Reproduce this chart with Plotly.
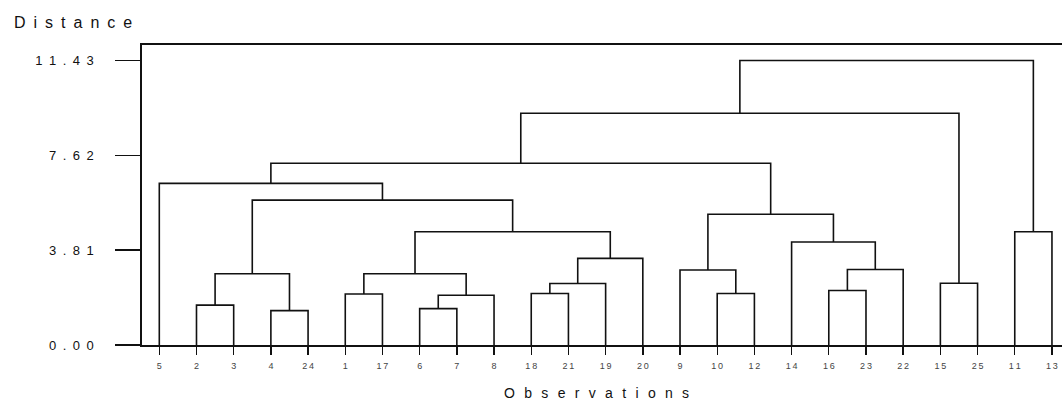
import plotly.graph_objects as go

# ---- data ----
leaves = ["5", "2", "3", "4", "24", "1", "17", "6", "7", "8", "18", "21", "19",
          "20", "9", "10", "12", "14", "16", "23", "22", "15", "25", "11", "13"]

merge_ids = ["c1", "c2", "c3", "c4", "c5", "c6", "c7", "c8", "c9", "c10", "c11", "c12",
             "c13", "c14", "c15", "c16", "c17", "c18", "c19", "c20", "c21", "c22", "c23", "c24"]
merge_left = ["2", "4", "c1", "1", "6", "c5", "c4", "18", "c8", "c9", "c7", "c3",
              "5", "10", "9", "16", "c16", "14", "c15", "c13", "15", "c20", "11", "c22"]
merge_right = ["3", "24", "c2", "17", "7", "8", "c6", "21", "19", "20", "c10", "c11",
               "c12", "12", "c14", "23", "22", "c17", "c18", "c19", "25", "c21", "13", "c23"]
merge_height = [1.60, 1.38, 2.86, 2.05, 1.46, 2.00, 2.86, 2.07, 2.47, 3.48, 4.55, 5.82,
                6.49, 2.07, 3.01, 2.19, 3.03, 4.14, 5.25, 7.30, 2.48, 9.31, 4.55, 11.43]

y_tick_values = [0.00, 3.81, 7.62, 11.43]
y_tick_labels = ["0.00", "3.81", "7.62", "11.43"]

# ---- build dendrogram geometry from the merge table ----
pos = {lab: i + 1 for i, lab in enumerate(leaves)}
hgt = {lab: 0.0 for lab in leaves}
xs, ys = [], []
for mid, a, b, h in zip(merge_ids, merge_left, merge_right, merge_height):
    xa, xb = pos[a], pos[b]
    xs += [xa, xa, xb, xb, None]
    ys += [hgt[a], h, h, hgt[b], None]
    pos[mid] = (xa + xb) / 2
    hgt[mid] = h


def spaced(s, sep):
    return sep.join(list(s))


fig = go.Figure()
fig.add_trace(go.Scatter(x=xs, y=ys, mode="lines",
                         line=dict(color="#111111", width=1.6),
                         hoverinfo="skip", showlegend=False))

fig.update_layout(
    width=1062, height=406,
    margin=dict(l=142, r=0, t=45, b=61),
    paper_bgcolor="white", plot_bgcolor="white",
    font=dict(family="Liberation Sans, Arial, sans-serif", color="#111111"),
    xaxis=dict(
        range=[0.535, 25.27], showgrid=False, zeroline=False,
        showline=True, mirror=True, linecolor="#111111", linewidth=1.6,
        ticks="outside", ticklen=8, tickwidth=1.4, tickcolor="#111111",
        tickvals=list(range(1, len(leaves) + 1)),
        ticktext=[spaced(t, "\u2009") for t in leaves],
        tickfont=dict(size=9, color="#444444"),
        ticklabelstandoff=4,
        ticklabeloverflow="allow",
    ),
    yaxis=dict(
        range=[0, 12.05], showgrid=False, zeroline=False,
        showline=True, linecolor="#111111", linewidth=1.6,
        ticks="outside", ticklen=25, tickwidth=1.4, tickcolor="#111111",
        tickvals=y_tick_values,
        ticktext=[spaced(t, "\u2002") for t in y_tick_labels],
        tickfont=dict(size=13, color="#111111"),
        ticklabelstandoff=19,
    ),
    annotations=[
        dict(text=spaced("Distance", "\u2002"), xref="paper", yref="paper",
             x=-0.1416, y=1.076, xanchor="left", yanchor="middle",
             showarrow=False, font=dict(size=16, color="#111111")),
        dict(text=spaced("Observations", "\u2002\u2006"), xref="paper", yref="paper",
             x=0.4935, y=-0.161, xanchor="center", yanchor="middle",
             showarrow=False, font=dict(size=14, color="#111111")),
    ],
)

fig.write_html(
    "out.html",
    config={"displayModeBar": False, "staticPlot": True},
    post_script="document.body.style.margin='0';document.body.style.overflow='hidden';",
)
